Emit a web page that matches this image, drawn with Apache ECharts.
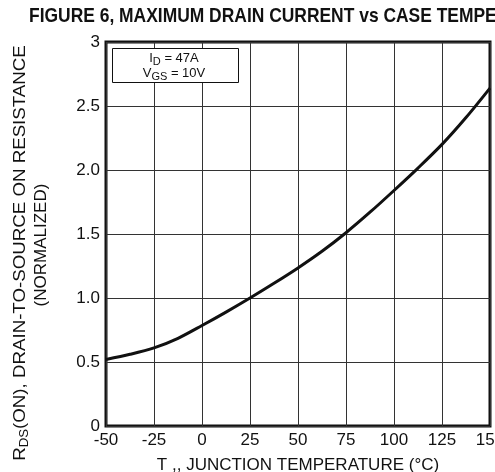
<!DOCTYPE html>
<html>
<head>
<meta charset="utf-8">
<script src="https://cdn.jsdelivr.net/npm/echarts@6/dist/echarts.min.js"></script>
<style>
  html, body { margin: 0; padding: 0; background: #fff; }
  #chart { width: 495px; height: 472px; }
</style>
</head>
<body>
<div id="chart"></div>
<script>
// junction temperature (°C) and normalized RDS(on)
const temps = [-50, -37.5, -25, -12.5, 0, 12.5, 25, 37.5, 50, 62.5, 75, 87.5, 100, 112.5, 125, 137.5, 150];
const rdsOn = [0.52, 0.56, 0.61, 0.685, 0.785, 0.89, 1.0, 1.115, 1.235, 1.365, 1.51, 1.67, 1.84, 2.015, 2.2, 2.41, 2.64];

const xTickLabels = ['-50', '-25', '0', '25', '50', '75', '100', '125', '150'];
const yTickLabels = ['0', '0.5', '1.0', '1.5', '2.0', '2.5', '3'];

const FONT = '"Liberation Sans", Arial, Helvetica, sans-serif';
const INK = '#111';

const chart = echarts.init(document.getElementById('chart'));

const option = {
    backgroundColor: '#fff',
    animation: false,
    grid: {
        left: 106,
        right: 5,
        top: 42,
        bottom: 46,
        show: true,
        borderColor: INK,
        borderWidth: 3,
        backgroundColor: 'transparent',
        outerBoundsMode: 'none'
    },
    xAxis: {
        type: 'value',
        min: -50,
        max: 150,
        interval: 25,
        axisLine: { show: false },
        axisTick: { show: false },
        splitLine: { lineStyle: { color: '#333', width: 1 } },
        axisLabel: {
            margin: 6,
            color: INK,
            fontFamily: FONT,
            fontSize: 17,
            showMaxLabel: true,
            formatter: (v) => xTickLabels[Math.round((v + 50) / 25)]
        },
        name: 'T ,, JUNCTION TEMPERATURE (°C)',
        nameLocation: 'middle',
        nameGap: 31,
        nameTextStyle: { color: INK, fontFamily: FONT, fontSize: 17 }
    },
    yAxis: {
        type: 'value',
        min: 0,
        max: 3,
        interval: 0.5,
        axisLine: { show: false },
        axisTick: { show: false },
        splitLine: { lineStyle: { color: '#333', width: 1 } },
        axisLabel: {
            margin: 6,
            color: INK,
            fontFamily: FONT,
            fontSize: 17,
            formatter: (v) => yTickLabels[Math.round(v / 0.5)]
        }
    },
    graphic: [
        // title, squeezed like the datasheet type
        {
            type: 'text',
            left: 29,
            top: 6,
            scaleX: 0.83,
            style: {
                text: 'FIGURE 6, MAXIMUM DRAIN CURRENT vs CASE TEMPERATURE',
                fill: INK,
                font: 'bold 21px ' + FONT
            }
        },
        // y axis title, two rotated lines
        {
            type: 'text',
            x: 20,
            y: 253,
            rotation: Math.PI / 2,
            scaleX: 1.1,
            style: {
                text: '{n|R}{s|DS}{n|(ON), DRAIN-TO-SOURCE ON RESISTANCE}',
                align: 'center',
                verticalAlign: 'middle',
                fill: INK,
                rich: {
                    n: { fontFamily: FONT, fontSize: 17, fill: INK },
                    s: { fontFamily: FONT, fontSize: 12, fill: INK, padding: [10, 0, 0, 0] }
                }
            }
        },
        {
            type: 'text',
            x: 41,
            y: 245,
            rotation: Math.PI / 2,
            style: {
                text: '(NORMALIZED)',
                align: 'center',
                verticalAlign: 'middle',
                fill: INK,
                font: '17px ' + FONT
            }
        },
        // condition box
        {
            type: 'rect',
            shape: { x: 112.5, y: 48.5, width: 126, height: 34 },
            style: { fill: '#fff', stroke: INK, lineWidth: 1 },
            z: 10
        },
        {
            type: 'text',
            x: 174,
            y: 58,
            z: 11,
            style: {
                text: '{n|I}{s|D}{n| = 47A}',
                align: 'center',
                verticalAlign: 'middle',
                rich: {
                    n: { fontFamily: FONT, fontSize: 13, fill: INK },
                    s: { fontFamily: FONT, fontSize: 11, fill: INK, padding: [7, 0, 0, 0] }
                }
            }
        },
        {
            type: 'text',
            x: 174,
            y: 73,
            z: 11,
            style: {
                text: '{n|V}{s|GS}{n| = 10V}',
                align: 'center',
                verticalAlign: 'middle',
                rich: {
                    n: { fontFamily: FONT, fontSize: 13, fill: INK },
                    s: { fontFamily: FONT, fontSize: 11, fill: INK, padding: [7, 0, 0, 0] }
                }
            }
        }
    ],
    series: [
        {
            type: 'line',
            data: temps.map((t, i) => [t, rdsOn[i]]),
            smooth: 0.3,
            symbol: 'none',
            lineStyle: { color: INK, width: 3 },
            z: 5
        }
    ]
};

chart.setOption(option);
</script>
</body>
</html>
